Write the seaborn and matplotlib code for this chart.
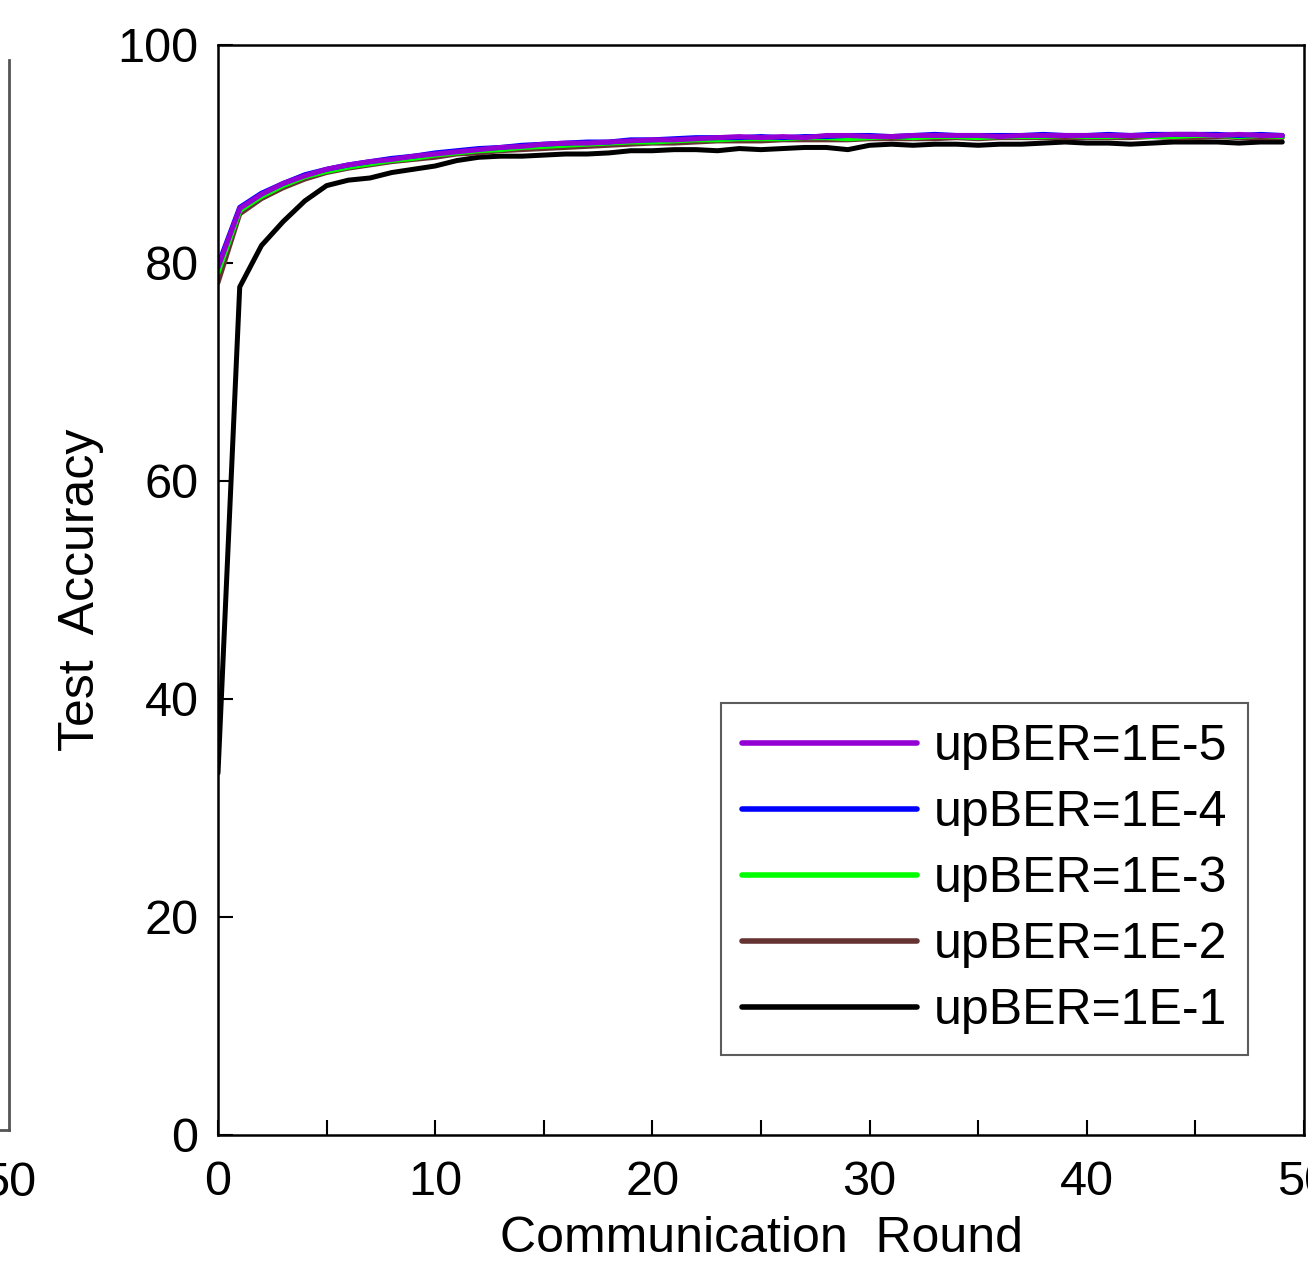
import numpy as np
import pandas as pd
import matplotlib
matplotlib.use("Agg")
import matplotlib.pyplot as plt
import seaborn as sns

rounds = list(range(50))

acc_1e5 = [79.6, 85.0, 86.3, 87.3, 88.0, 88.6, 89.0, 89.3, 89.5, 89.8,
           90.0, 90.2, 90.4, 90.6, 90.7, 90.9, 91.0, 91.0, 91.1, 91.2,
           91.3, 91.3, 91.4, 91.5, 91.6, 91.5, 91.6, 91.5, 91.7, 91.7,
           91.6, 91.6, 91.7, 91.7, 91.7, 91.7, 91.6, 91.7, 91.7, 91.7,
           91.7, 91.7, 91.7, 91.7, 91.8, 91.8, 91.7, 91.8, 91.7, 91.7]
acc_1e4 = [79.8, 85.1, 86.4, 87.3, 88.1, 88.6, 89.0, 89.3, 89.6, 89.8,
           90.1, 90.3, 90.5, 90.6, 90.8, 90.9, 91.0, 91.1, 91.1, 91.3,
           91.3, 91.4, 91.5, 91.5, 91.5, 91.6, 91.5, 91.6, 91.6, 91.7,
           91.7, 91.6, 91.7, 91.8, 91.7, 91.7, 91.7, 91.7, 91.8, 91.7,
           91.7, 91.8, 91.7, 91.8, 91.8, 91.8, 91.8, 91.7, 91.8, 91.7]
acc_1e3 = [79.1, 84.8, 86.1, 87.1, 87.9, 88.4, 88.8, 89.1, 89.4, 89.6,
           89.9, 90.1, 90.3, 90.4, 90.6, 90.7, 90.8, 90.9, 91.0, 91.1,
           91.1, 91.2, 91.3, 91.3, 91.4, 91.4, 91.4, 91.5, 91.5, 91.4,
           91.5, 91.6, 91.5, 91.6, 91.6, 91.5, 91.6, 91.6, 91.6, 91.7,
           91.6, 91.6, 91.7, 91.6, 91.6, 91.7, 91.7, 91.6, 91.7, 91.6]
acc_1e2 = [78.2, 84.5, 85.9, 86.9, 87.7, 88.3, 88.7, 89.0, 89.3, 89.5,
           89.7, 90.0, 90.1, 90.3, 90.4, 90.5, 90.6, 90.7, 90.8, 90.9,
           91.0, 91.0, 91.1, 91.2, 91.2, 91.2, 91.3, 91.3, 91.3, 91.3,
           91.4, 91.4, 91.4, 91.4, 91.5, 91.4, 91.5, 91.5, 91.5, 91.5,
           91.5, 91.5, 91.5, 91.6, 91.5, 91.5, 91.6, 91.5, 91.5, 91.5]
acc_1e1 = [33.2, 77.8, 81.6, 83.8, 85.7, 87.1, 87.6, 87.8, 88.3, 88.6,
           88.9, 89.4, 89.7, 89.8, 89.8, 89.9, 90.0, 90.0, 90.1, 90.3,
           90.3, 90.4, 90.4, 90.3, 90.5, 90.4, 90.5, 90.6, 90.6, 90.4,
           90.8, 90.9, 90.8, 90.9, 90.9, 90.8, 90.9, 90.9, 91.0, 91.1,
           91.0, 91.0, 90.9, 91.0, 91.1, 91.1, 91.1, 91.0, 91.1, 91.1]

labels = ["upBER=1E-5", "upBER=1E-4", "upBER=1E-3", "upBER=1E-2", "upBER=1E-1"]
series = [acc_1e5, acc_1e4, acc_1e3, acc_1e2, acc_1e1]
colors = ["#9400D3", "#0000FF", "#00FF00", "#663333", "#000000"]

frames = []
for lab, vals in zip(labels, series):
    frames.append(pd.DataFrame({"round": rounds, "acc": vals, "setting": lab}))
df = pd.concat(frames, ignore_index=True)

sns.set_theme(style="white")
plt.rcParams["font.family"] = ["Liberation Sans", "DejaVu Sans"]

W, H = 1308, 1265
fig = plt.figure(figsize=(W / 100, H / 100), dpi=100)

# partial neighbouring panel at the left edge
ax0 = fig.add_axes([-0.8, 1 - 1130 / H, 0.8 + 9 / W, (1130 - 60) / H])
ax0.set_xlim(0, 50)
ax0.set_ylim(0, 100)
for s in ["top", "left"]:
    ax0.spines[s].set_visible(False)
for s in ["right", "bottom"]:
    ax0.spines[s].set_color("#555555")
    ax0.spines[s].set_linewidth(2)
ax0.set_xticks([50])
ax0.set_yticks([])
ax0.tick_params(axis="x", length=0, labelsize=35, pad=22, colors="black")

ax = fig.add_axes([218 / W, 1 - 1135 / H, (1304 - 218) / W, (1135 - 45) / H])
palette = dict(zip(labels, colors))
for lab in labels[::-1]:
    sns.lineplot(data=df[df["setting"] == lab], x="round", y="acc",
                 color=palette[lab], linewidth=3.6, ax=ax, label=lab)

ax.set_xlim(0, 50)
ax.set_ylim(0, 100)
ax.set_xticks(np.arange(0, 51, 5))
ax.set_xticklabels([str(v) if v % 10 == 0 else "" for v in range(0, 51, 5)])
ax.set_yticks(np.arange(0, 101, 20))
ax.tick_params(axis="both", direction="in", length=11, width=1.5,
               labelsize=35, colors="black", bottom=True, left=True)
ax.tick_params(axis="x", pad=18)
ax.tick_params(axis="y", pad=14)
for s in ax.spines.values():
    s.set_color("black")
    s.set_linewidth(1.8)

ax.set_xlabel("Communication  Round", fontsize=36, labelpad=8, color="black")
ax.set_ylabel("Test  Accuracy", fontsize=36, labelpad=10, color="black")

handles, labs = ax.get_legend_handles_labels()
order = [labs.index(l) for l in labels]
leg = ax.legend([handles[i] for i in order], [labs[i] for i in order],
                loc="lower right",
                bbox_to_anchor=((1248 - 218) / (1304 - 218), (1135 - 1055) / (1135 - 45)),
                fontsize=36, frameon=True, fancybox=False, handlelength=3.5,
                handletextpad=0.34, labelspacing=0.4, borderpad=0.42,
                borderaxespad=0)
leg.get_frame().set_edgecolor("#333333")
leg.get_frame().set_linewidth(1.5)
for t in leg.get_texts():
    t.set_color("black")
for h in leg.get_lines():
    h.set_linewidth(4)

fig.savefig("out.png", dpi=100)
